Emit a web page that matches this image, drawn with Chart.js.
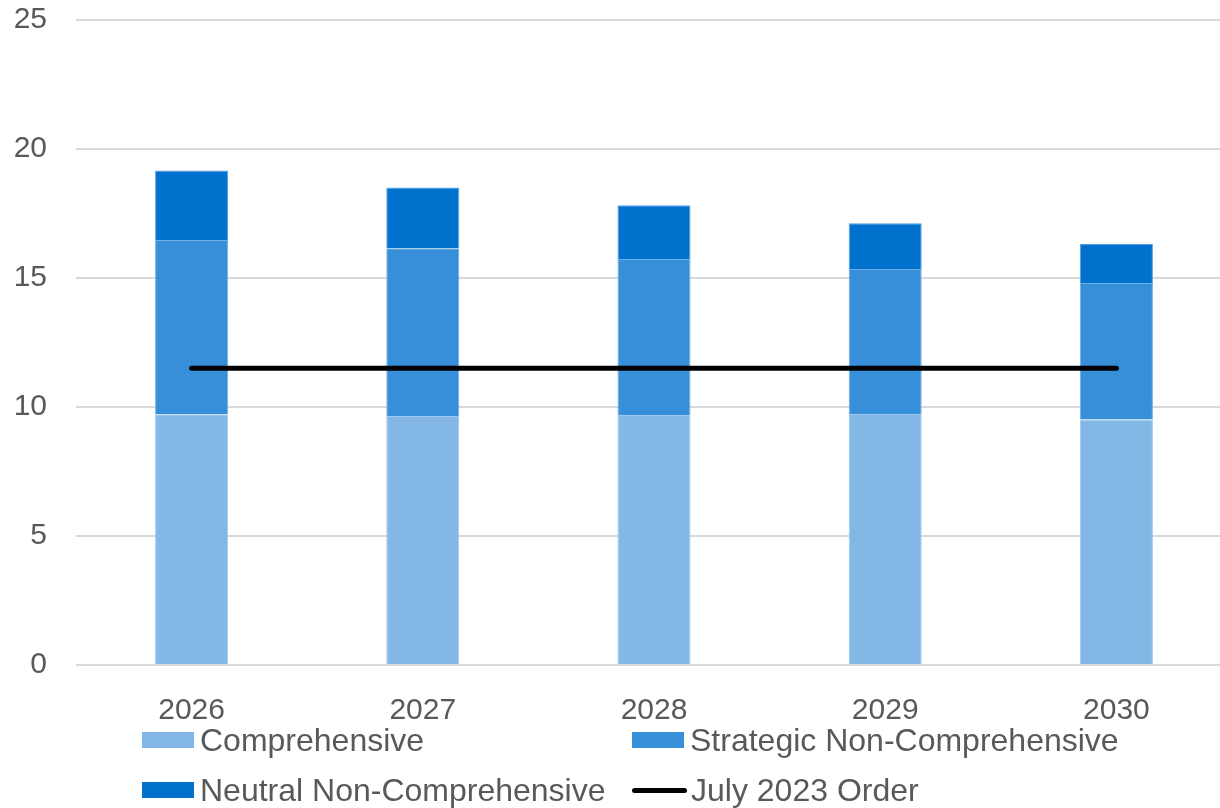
<!DOCTYPE html>
<html>
<head>
<meta charset="utf-8">
<script src="https://cdn.jsdelivr.net/npm/chart.js@4"></script>
<style>
    body { margin: 0; background: #fff; font-family: 'Liberation Sans', Arial, sans-serif; }
    #wrap { position: relative; width: 1220px; height: 808px; overflow: hidden; }
    #StackChart { position: absolute; left: 0; top: 0; }
    .leg { position: absolute; display: flex; align-items: center; font-size: 32px; color: #595959; white-space: nowrap; }
    .sw { width: 52px; height: 16px; margin-right: 6px; }
    .ln { width: 55px; height: 5px; border-radius: 3px; margin-right: 4px; }
</style>
</head>
<body>
<div id="wrap">
    <canvas id="StackChart" width="1232" height="808"></canvas>
</div>
<script>
// chart values
const years = ['2026', '2027', '2028', '2029', '2030'];
const comprehensive = [9.72, 9.65, 9.69, 9.73, 9.52];
const strategicNonComp = [6.75, 6.50, 6.05, 5.62, 5.29];
const neutralNonComp = [2.70, 2.36, 2.08, 1.77, 1.51];
const july2023Order = [11.5, 11.5, 11.5, 11.5, 11.5];
const yTicks = [0, 5, 10, 15, 20, 25];

const tickColor = '#595959';

const ctx = document.getElementById('StackChart').getContext('2d');
const StackChart = new Chart(ctx, {
    type: 'bar',
    data: {
        labels: years,
        datasets: [{
            label: 'Comprehensive',
            data: comprehensive,
            backgroundColor: '#83b7e6',
            borderColor: 'rgba(160, 200, 240, 1)',
            borderWidth: 1,
            stack: 's',
            order: 2
        }, {
            label: 'Strategic Non-Comprehensive',
            data: strategicNonComp,
            backgroundColor: '#368fd8',
            borderColor: 'rgba(110, 175, 232, 1)',
            borderWidth: 1,
            stack: 's',
            order: 2
        }, {
            label: 'Neutral Non-Comprehensive',
            data: neutralNonComp,
            backgroundColor: '#0072cd',
            borderColor: 'rgba(80, 160, 230, 1)',
            borderWidth: 1,
            stack: 's',
            order: 2
        }, {
            type: 'line',
            label: 'July 2023 Order',
            data: july2023Order,
            borderColor: '#000',
            backgroundColor: '#000',
            borderWidth: 5,
            borderCapStyle: 'round',
            pointRadius: 0,
            fill: false,
            order: 1
        }]
    },
    options: {
        responsive: false,
        animation: false,
        devicePixelRatio: 1,
        categoryPercentage: 1,
        barPercentage: 0.316,
        layout: { padding: { top: 20, left: 0, right: 0, bottom: 0 } },
        plugins: {
            legend: { display: false },
            tooltip: { enabled: false }
        },
        scales: {
            x: {
                stacked: true,
                grid: { display: false },
                border: { display: false },
                ticks: {
                    color: tickColor,
                    padding: 20,
                    font: { family: 'Liberation Sans', size: 30 }
                },
                afterFit: function (scale) { scale.height = 143; }
            },
            y: {
                stacked: true,
                min: 0,
                max: 25,
                afterBuildTicks: function (scale) {
                    scale.ticks = yTicks.map(v => ({ value: v }));
                },
                grid: { color: '#d9d9d9', lineWidth: 2, drawTicks: false },
                border: { display: false },
                ticks: {
                    color: tickColor,
                    padding: 29,
                    font: { family: 'Liberation Sans', size: 30 }
                },
                afterFit: function (scale) {
                    scale.width = 76;
                    scale.paddingTop = 0;
                    scale.paddingBottom = 0;
                }
            }
        }
    }
});

// legend laid out in two columns, built from the chart's datasets
const legendSpots = [[142, 740], [632, 740], [142, 790], [632, 790]];
StackChart.data.datasets.forEach((ds, i) => {
    const item = document.createElement('div');
    item.className = 'leg';
    const mark = document.createElement('span');
    mark.className = ds.type === 'line' ? 'ln' : 'sw';
    mark.style.background = ds.backgroundColor;
    item.appendChild(mark);
    item.appendChild(document.createTextNode(ds.label));
    item.style.left = legendSpots[i][0] + 'px';
    item.style.top = (legendSpots[i][1] - 18) + 'px';
    item.style.height = '36px';
    document.getElementById('wrap').appendChild(item);
});
</script>
</body>
</html>
